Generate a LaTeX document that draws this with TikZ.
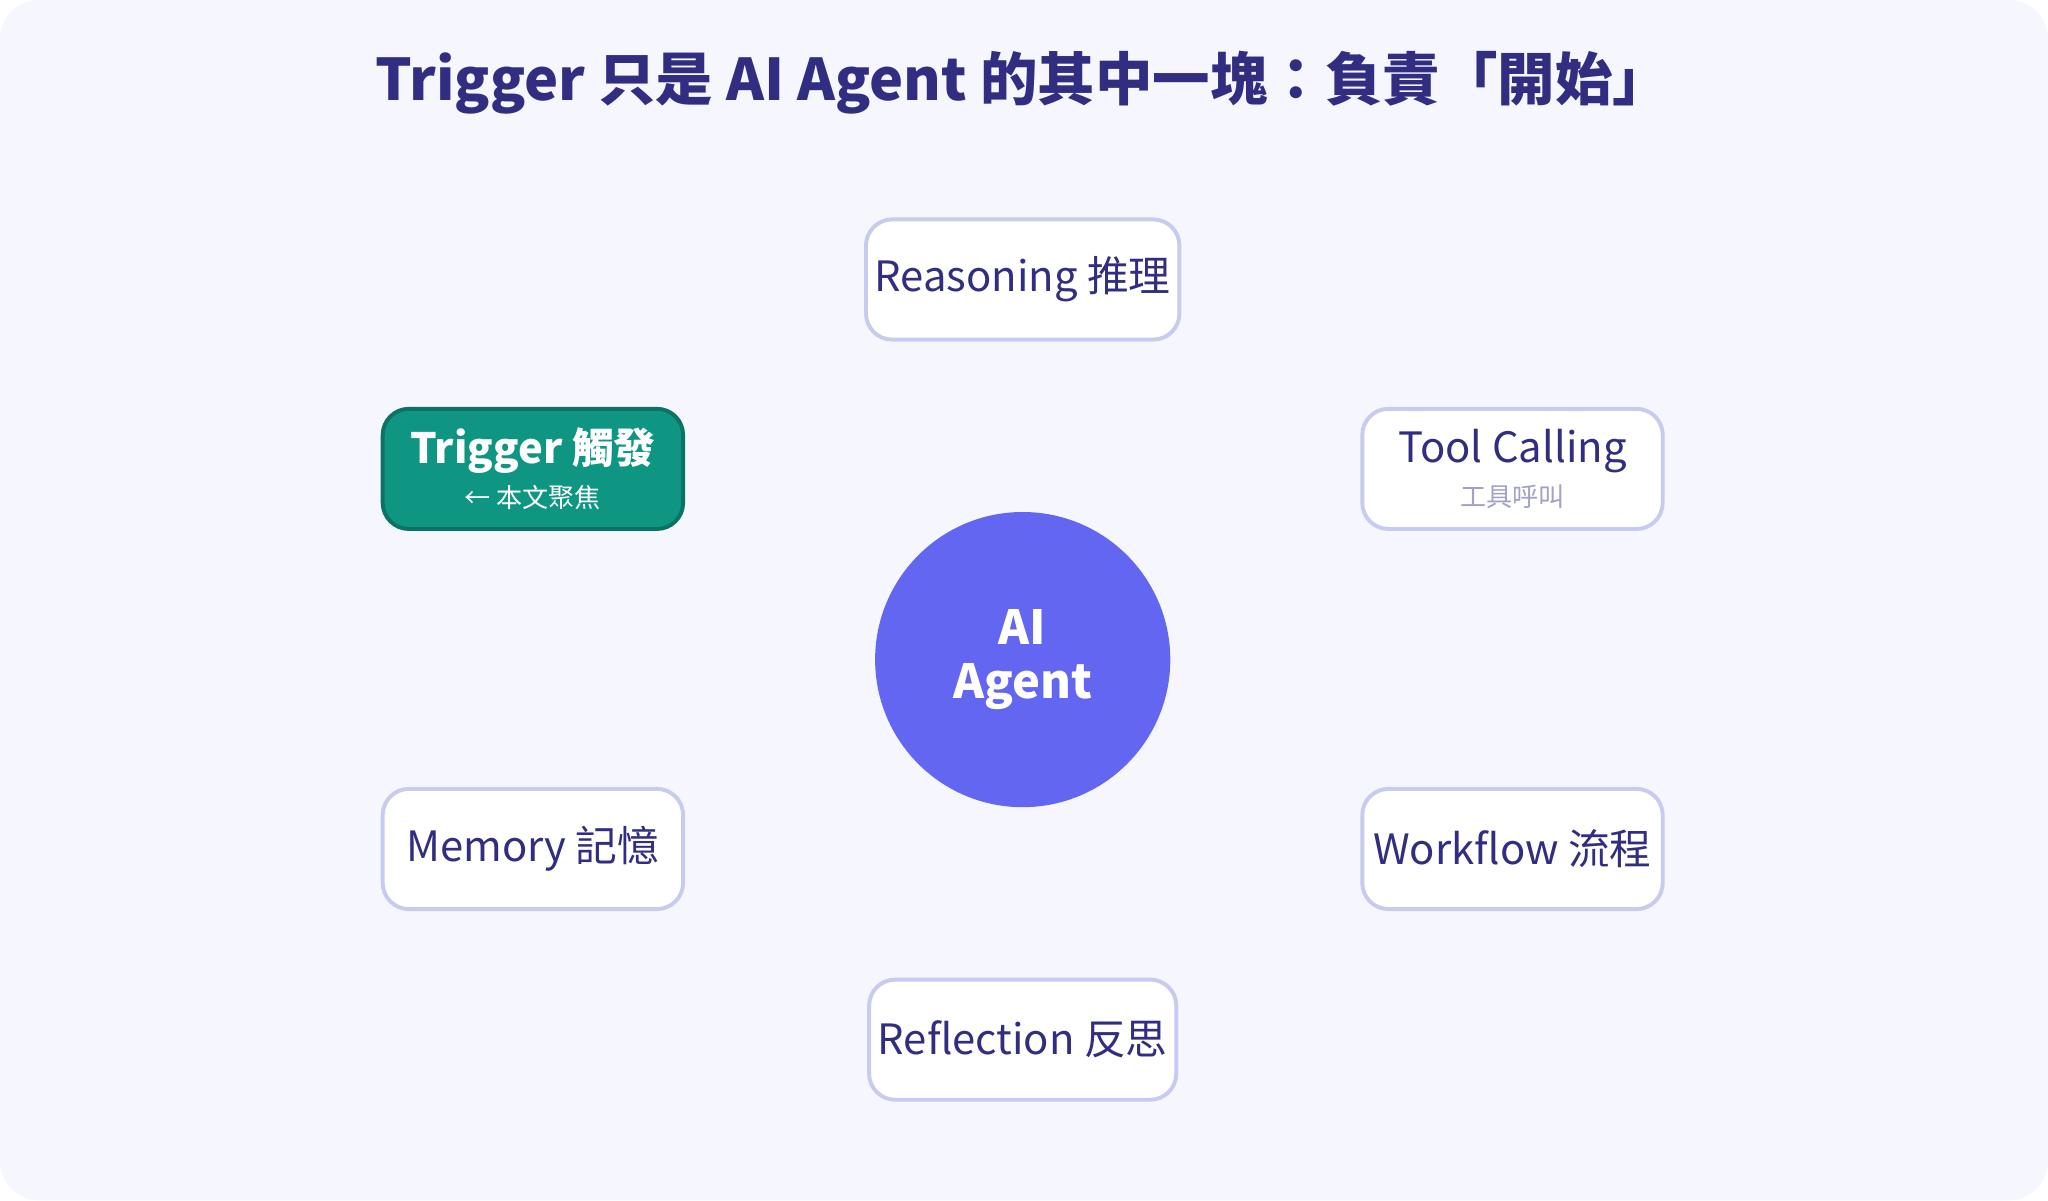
\documentclass[tikz,border=0pt]{standalone}
\usepackage{fontspec}
\setmainfont{Noto Sans CJK TC}
\usetikzlibrary{backgrounds}
\definecolor{bgpage}{HTML}{F5F6FE}
\definecolor{ink}{HTML}{312E81}
\definecolor{spoke}{HTML}{C7CBF0}
\definecolor{hub}{HTML}{6366F1}
\definecolor{teal}{HTML}{0F9683}
\definecolor{tealdark}{HTML}{0B7366}
\tikzset{
  part/.style={draw=spoke, line width=1.5pt, fill=white, rounded corners=10pt,
    minimum width=115pt, minimum height=46pt, align=center, text=ink, font=\fontsize{16}{19}\selectfont},
  link/.style={draw=spoke, line width=2pt}
}
\begin{document}
\begin{tikzpicture}[x=0.5pt,y=-0.5pt]

      \fill[bgpage, rounded corners=15pt] (0,0) rectangle (1568,919);
      \useasboundingbox (0,0) rectangle (1568,919);

      \node[text=ink, font=\fontsize{22}{26}\selectfont\bfseries] (title) at (783,63)
        {Trigger 只是 AI Agent 的其中一塊：負責「開始」};

      \node[circle, fill=hub, minimum size=113pt, text=white, align=center,
        font=\fontsize{18}{21}\selectfont\bfseries] (agent) at (783,505) {AI\\Agent};

      \node[part] (reason)  at (783,214)  {Reasoning 推理};
      \node[part] (tool)    at (1158,359) {Tool Calling\\[-2pt]{\fontsize{10}{12}\selectfont\color{ink!45}工具呼叫}};
      \node[part, fill=teal, draw=tealdark, text=white, font=\fontsize{16}{19}\selectfont\bfseries]
        (trigger) at (408,359) {Trigger 觸發\\[-2pt]{\fontsize{10}{12}\selectfont\mdseries ← 本文聚焦}};
      \node[part] (memory)  at (408,650)  {Memory 記憶};
      \node[part] (flow)    at (1158,650) {Workflow 流程};
      \node[part] (reflect) at (783,796)  {Reflection 反思};

      \begin{scope}[on background layer]
        \foreach \n in {reason,tool,trigger,memory,flow,reflect}
          \path[link] (agent) -- (\n);
      \end{scope}

    \end{tikzpicture}
\end{document}
